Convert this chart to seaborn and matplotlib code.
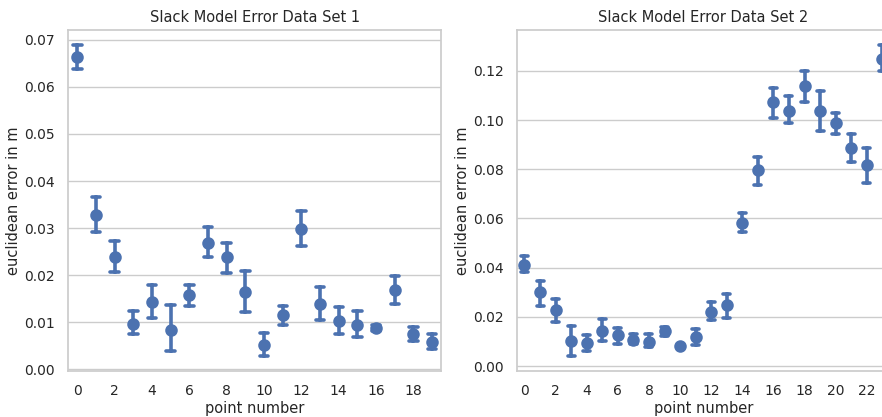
import matplotlib
matplotlib.use("Agg")
import matplotlib.pyplot as plt
import numpy as np
import pandas as pd
import seaborn as sns

# Data set 1: per-point error (centre, lower bound, upper bound) in metres
set1_points = list(range(20))
set1_center = [0.0663, 0.0327, 0.0239, 0.0097, 0.0143, 0.0084, 0.0157, 0.0268, 0.0238, 0.0165,
               0.0051, 0.0115, 0.0299, 0.0138, 0.0103, 0.0094, 0.0088, 0.0169, 0.0074, 0.0058]
set1_lower = [0.0638, 0.0291, 0.0207, 0.0074, 0.0109, 0.0039, 0.0134, 0.0238, 0.0205, 0.0122,
              0.0029, 0.0094, 0.0261, 0.0105, 0.0075, 0.0068, 0.0082, 0.0139, 0.0061, 0.0043]
set1_upper = [0.0689, 0.0366, 0.0272, 0.0124, 0.0180, 0.0136, 0.0180, 0.0303, 0.0269, 0.0209,
              0.0078, 0.0134, 0.0337, 0.0174, 0.0133, 0.0123, 0.0094, 0.0198, 0.0090, 0.0074]

# Data set 2
set2_points = list(range(24))
set2_center = [0.0412, 0.0301, 0.0228, 0.0103, 0.0094, 0.0142, 0.0125, 0.0106, 0.0099, 0.0141,
               0.0081, 0.0120, 0.0221, 0.0247, 0.0583, 0.0795, 0.1075, 0.1037, 0.1139, 0.1035,
               0.0986, 0.0887, 0.0816, 0.1247]
set2_lower = [0.0381, 0.0243, 0.0178, 0.0042, 0.0060, 0.0100, 0.0089, 0.0088, 0.0077, 0.0122,
              0.0078, 0.0085, 0.0189, 0.0197, 0.0544, 0.0736, 0.1010, 0.0987, 0.1074, 0.0957,
              0.0943, 0.0830, 0.0746, 0.1199]
set2_upper = [0.0447, 0.0344, 0.0274, 0.0161, 0.0126, 0.0191, 0.0155, 0.0129, 0.0130, 0.0160,
              0.0084, 0.0149, 0.0262, 0.0293, 0.0624, 0.0848, 0.1131, 0.1097, 0.1198, 0.1116,
              0.1029, 0.0942, 0.0885, 0.1304]

titles = ["Slack Model Error Data Set 1", "Slack Model Error Data Set 2"]


def long_form(points, center, lower, upper):
    # three rows per point: the median is the centre, the full range spans the interval
    rows = []
    for p, c, lo, hi in zip(points, center, lower, upper):
        for v in (lo, c, hi):
            rows.append({"point": p, "error": v})
    return pd.DataFrame(rows)


sns.set_theme(style="whitegrid")
plt.rcParams["font.family"] = ["DejaVu Sans"]

W, H = 882, 417
fig = plt.figure(figsize=(W / 100, H / 100), dpi=100)
ax1 = fig.add_axes([68 / W, (H - 370.7) / H, 373.4 / W, 340.7 / H])
ax2 = fig.add_axes([516.7 / W, (H - 370.7) / H, 373.4 / W, 340.7 / H])

datasets = [
    (ax1, long_form(set1_points, set1_center, set1_lower, set1_upper), (-0.0003, 0.0721)),
    (ax2, long_form(set2_points, set2_center, set2_lower, set2_upper), (-0.0019, 0.1366)),
]

for i, (ax, df, ylim) in enumerate(datasets):
    sns.pointplot(data=df, x="point", y="error", ax=ax,
                  estimator="median", errorbar=("pi", 100),
                  linestyle="none", color="#4c72b0", capsize=0.45,
                  markersize=7, err_kws={"linewidth": 2.6})
    ax.set_ylim(*ylim)
    ax.set_title(titles[i], fontsize=10.5, color="#262626")
    ax.set_xlabel("point number", fontsize=10.5, labelpad=2)
    ax.set_ylabel("euclidean error in m", fontsize=10.5, labelpad=2)
    n = df["point"].nunique()
    ax.set_xticks(range(0, n, 2))
    ax.set_xticklabels([str(k) for k in range(0, n, 2)])
    ax.tick_params(labelsize=10)

ax1.set_yticks(np.arange(0, 0.0701, 0.01))
ax2.set_yticks(np.arange(0, 0.121, 0.02))

fig.savefig("out.png", dpi=100)
